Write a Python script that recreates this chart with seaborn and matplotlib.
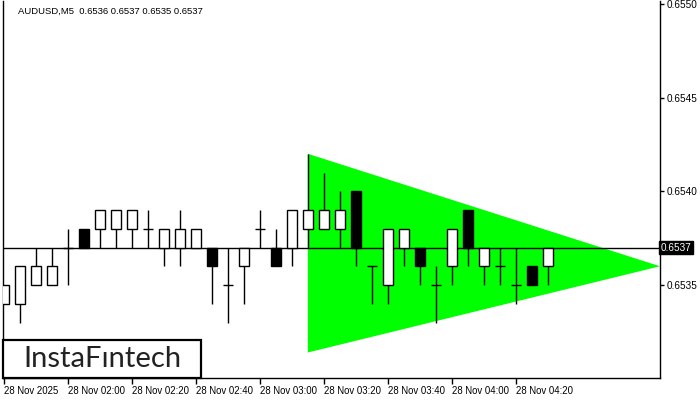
import matplotlib
matplotlib.use("Agg")
import matplotlib.pyplot as plt
import matplotlib.patches as mpatches
import numpy as np
import pandas as pd
import seaborn as sns

# AUDUSD M5 candles, 28 Nov 2025 01:40 .. 04:30
opens  = [0.6534, 0.6534, 0.6535, 0.6535, 0.6537, 0.6538, 0.6538, 0.6538, 0.6538, 0.6538,
          0.6537, 0.6537, 0.6537, 0.6537, 0.6535, 0.6536, 0.6538, 0.6537, 0.6537, 0.6538,
          0.6538, 0.6538, 0.6540, 0.6536, 0.6535, 0.6537, 0.6537, 0.6535, 0.6536, 0.6539,
          0.6536, 0.6536, 0.6535, 0.6536, 0.6536]
highs  = [0.6535, 0.6536, 0.6537, 0.6537, 0.6538, 0.6538, 0.6539, 0.6539, 0.6539, 0.6539,
          0.6538, 0.6539, 0.6538, 0.6537, 0.6537, 0.6537, 0.6539, 0.6538, 0.6539, 0.6542,
          0.6541, 0.6540, 0.6540, 0.6536, 0.6538, 0.6538, 0.6537, 0.6536, 0.6538, 0.6539,
          0.6537, 0.6537, 0.6537, 0.6536, 0.6537]
lows   = [0.6534, 0.6533, 0.6535, 0.6535, 0.6535, 0.6537, 0.6537, 0.6537, 0.6537, 0.6537,
          0.6536, 0.6536, 0.6537, 0.6534, 0.6533, 0.6534, 0.6537, 0.6536, 0.6536, 0.6537,
          0.6538, 0.6537, 0.6536, 0.6534, 0.6534, 0.6536, 0.6535, 0.6533, 0.6535, 0.6536,
          0.6535, 0.6535, 0.6534, 0.6535, 0.6535]
closes = [0.6535, 0.6536, 0.6536, 0.6536, 0.6537, 0.6537, 0.6539, 0.6539, 0.6539, 0.6538,
          0.6538, 0.6538, 0.6538, 0.6536, 0.6535, 0.6537, 0.6538, 0.6536, 0.6539, 0.6539,
          0.6539, 0.6539, 0.6537, 0.6536, 0.6538, 0.6538, 0.6536, 0.6535, 0.6538, 0.6537,
          0.6537, 0.6536, 0.6535, 0.6535, 0.6537]

# triangle pattern (bar index, price)
tri_x = [19, 19, 41]
tri_y = [0.6542, 0.65314, 0.6536]

last_price = 0.6537
xtick_pos = [0, 4, 8, 12, 16, 20, 24, 28, 32]
xtick_labels = ['28 Nov 2025', '28 Nov 02:00', '28 Nov 02:20', '28 Nov 02:40', '28 Nov 03:00',
                '28 Nov 03:20', '28 Nov 03:40', '28 Nov 04:00', '28 Nov 04:20']
ytick_pos = [0.6535, 0.6540, 0.6545, 0.6550]

df = pd.DataFrame({'open': opens, 'high': highs, 'low': lows, 'close': closes})
df['bar'] = np.arange(len(df))

sns.set_theme(style="white")
plt.rcParams['font.family'] = ['Liberation Sans', 'DejaVu Sans']

fig = plt.figure(figsize=(7, 4), dpi=100)
ax = fig.add_axes([3 / 700, 22 / 400, 657 / 700, 377 / 400])
ax.set_xlim(-0.04, 41.0)
ax.set_ylim(0.653004, 0.655015)

# triangle
ax.fill(tri_x, tri_y, color='#00ff00', lw=0, zorder=1)

# last price line
ax.axhline(last_price, color='black', lw=1.0, zorder=2)

w = 0.625
lw = 1.0
# wicks
ax.vlines(df['bar'], df['low'], df['high'], color='black', lw=lw, zorder=3)
# bodies
up = df[df['close'] > df['open']]
dn = df[df['close'] < df['open']]
dj = df[df['close'] == df['open']]
ax.bar(up['bar'], up['close'] - up['open'], bottom=up['open'], width=w,
       facecolor='white', edgecolor='black', lw=lw, zorder=4)
ax.bar(dn['bar'], dn['open'] - dn['close'], bottom=dn['close'], width=w,
       facecolor='black', edgecolor='black', lw=lw, zorder=4)
ax.hlines(dj['open'], dj['bar'] - w / 2, dj['bar'] + w / 2, color='black', lw=lw, zorder=4)

# axes styling
for s in ax.spines.values():
    s.set_color('black')
    s.set_linewidth(1.0)
ax.spines['top'].set_visible(False)

ax.yaxis.tick_right()
ax.set_yticks(ytick_pos)
ax.set_yticklabels([f'{v:.4f}' for v in ytick_pos])
ax.tick_params(axis='y', direction='out', length=3, width=1, color='black',
               labelsize=7.2, labelcolor='black', pad=2, right=True, left=False)

ax.set_xticks(xtick_pos)
ax.set_xticklabels(xtick_labels, ha='left')
ax.tick_params(axis='x', direction='out', length=4, width=1, color='black',
               labelsize=6.9, labelcolor='black', pad=2, bottom=True)
ax.grid(False)

# current price tag
ax.text(1.0015, last_price, f'{last_price:.4f}', transform=ax.get_yaxis_transform(),
        ha='left', va='center', fontsize=7.2, color='white',
        bbox=dict(boxstyle='square,pad=0.15', facecolor='black', edgecolor='black'))

# header
fig.text(18 / 700, 1 - 11 / 400, 'AUDUSD,M5  0.6536 0.6537 0.6535 0.6537',
         ha='left', va='center', fontsize=6.8, color='black')

# logo box
fig.add_artist(mpatches.Rectangle((3 / 700, 22 / 400), 198 / 700, 38 / 400,
                                  transform=fig.transFigure, facecolor='white',
                                  edgecolor='black', lw=1.6, zorder=10))
fig.text(102.5 / 700, 1 - 359 / 400, 'InstaFıntech', ha='center', va='center',
         fontsize=21, color='#222222', family=['Lato', 'DejaVu Sans'], zorder=11)

fig.savefig('out.png', dpi=100)
